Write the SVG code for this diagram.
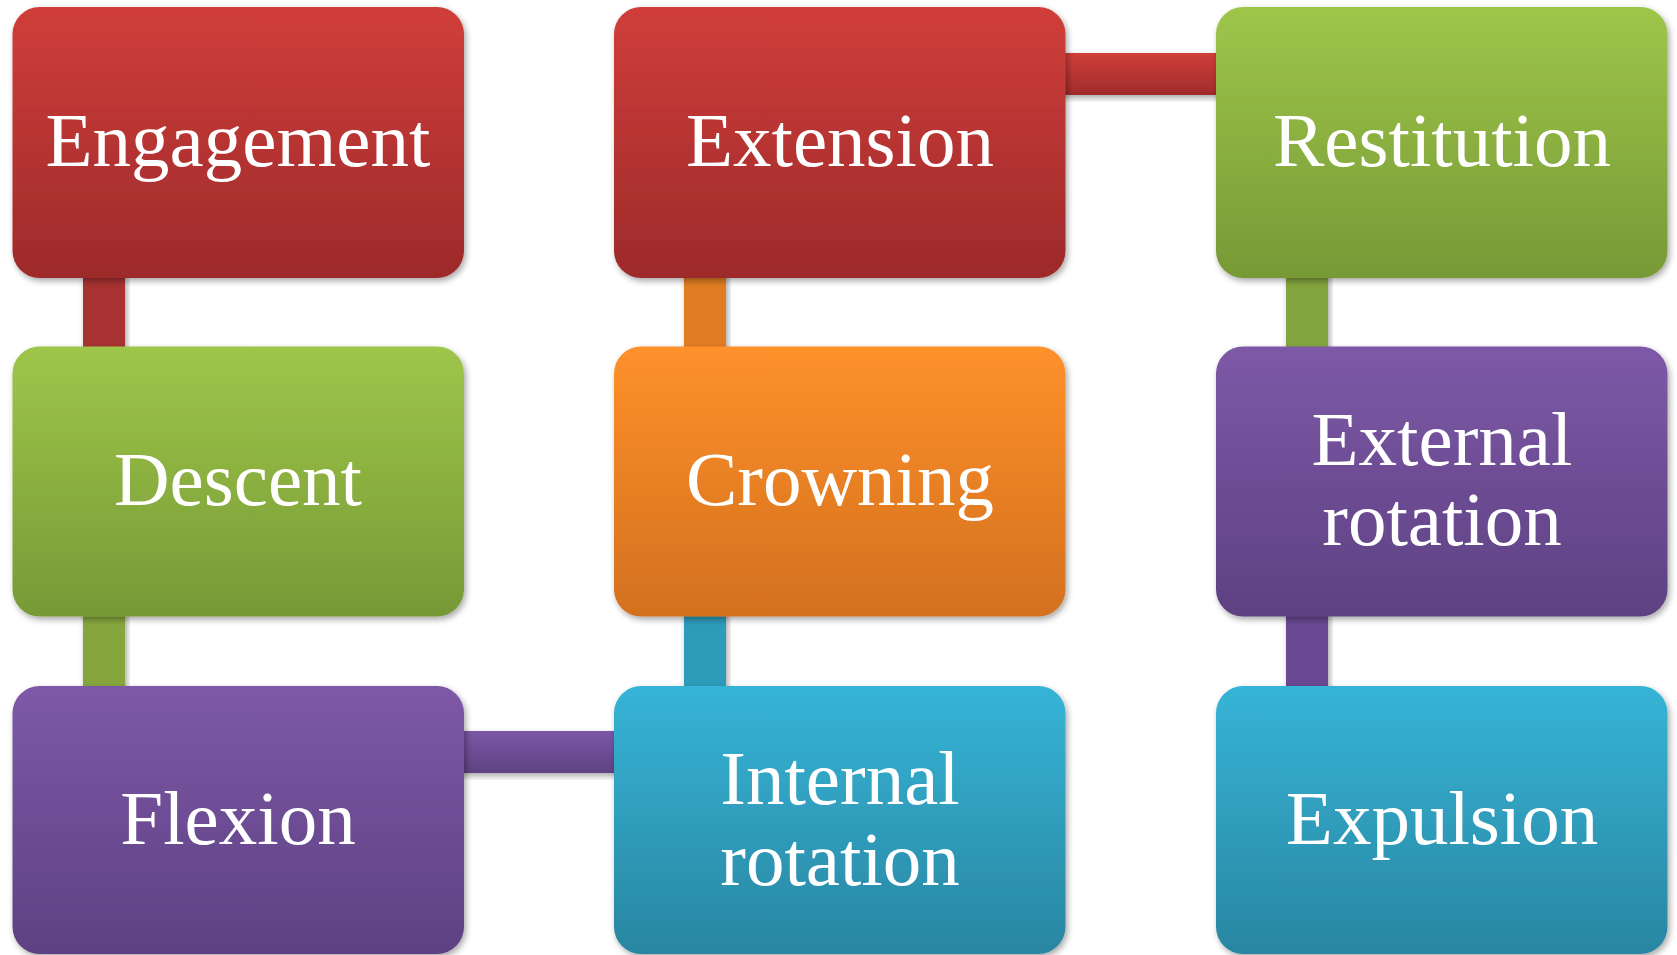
<svg xmlns="http://www.w3.org/2000/svg" width="1677" height="955" viewBox="0 0 1677 955">
  <defs>
    <linearGradient id="gRed" x1="0" y1="0" x2="0" y2="1">
      <stop offset="0" stop-color="#d03e3a"/>
      <stop offset="1" stop-color="#9d2a2b"/>
    </linearGradient>
    <linearGradient id="gGreen" x1="0" y1="0" x2="0" y2="1">
      <stop offset="0" stop-color="#9ec64a"/>
      <stop offset="1" stop-color="#779936"/>
    </linearGradient>
    <linearGradient id="gPurple" x1="0" y1="0" x2="0" y2="1">
      <stop offset="0" stop-color="#7d59a7"/>
      <stop offset="1" stop-color="#5d4182"/>
    </linearGradient>
    <linearGradient id="gOrange" x1="0" y1="0" x2="0" y2="1">
      <stop offset="0" stop-color="#fe912a"/>
      <stop offset="1" stop-color="#d3701f"/>
    </linearGradient>
    <linearGradient id="gTeal" x1="0" y1="0" x2="0" y2="1">
      <stop offset="0" stop-color="#36b4d7"/>
      <stop offset="1" stop-color="#2986a1"/>
    </linearGradient>
    <linearGradient id="cRed" x1="0" y1="0" x2="0" y2="1">
      <stop offset="0" stop-color="#d03e3a"/>
      <stop offset="1" stop-color="#9f2b2b"/>
    </linearGradient>
    <linearGradient id="cPurple" x1="0" y1="0" x2="0" y2="1">
      <stop offset="0" stop-color="#7b57a5"/>
      <stop offset="1" stop-color="#5f4284"/>
    </linearGradient>
    <filter id="shadow" x="-10%" y="-10%" width="120%" height="125%">
      <feDropShadow dx="2" dy="3" stdDeviation="3" flood-color="#000" flood-opacity="0.35"/>
    </filter>
  </defs>
  <style>
    .box { filter: url(#shadow); }
    .lbl { font-family: "Liberation Serif", "Times New Roman", serif; font-size: 77px; fill: #ffffff; text-anchor: middle; }
    .bar { filter: url(#shadow); }
  </style>

  <rect width="1677" height="955" fill="#ffffff"/>

  <!-- connectors between consecutive stages -->
  <g id="connectors">
    <rect class="bar" x="83" y="270" width="42" height="85" fill="#a83131"/>
    <rect class="bar" x="83" y="610" width="42" height="85" fill="#86a63d"/>
    <rect class="bar" x="455" y="731" width="168" height="42" fill="url(#cPurple)"/>
    <rect class="bar" x="684" y="610" width="42" height="85" fill="#2f9bbb"/>
    <rect class="bar" x="684" y="270" width="42" height="85" fill="#e07b22"/>
    <rect class="bar" x="1056" y="53" width="168" height="42" fill="url(#cRed)"/>
    <rect class="bar" x="1286" y="270" width="42" height="85" fill="#84a43c"/>
    <rect class="bar" x="1286" y="610" width="42" height="85" fill="#6b4a92"/>
  </g>

  <!-- column 1 -->
  <g id="engagement">
    <rect class="box" x="12.5" y="7" width="451.5" height="271" rx="27" fill="url(#gRed)"/>
    <text class="lbl" x="238" y="166">Engagement</text>
  </g>
  <g id="descent">
    <rect class="box" x="12.5" y="346.5" width="451.5" height="270" rx="27" fill="url(#gGreen)"/>
    <text class="lbl" x="238" y="505">Descent</text>
  </g>
  <g id="flexion">
    <rect class="box" x="12.5" y="686" width="451.5" height="268" rx="27" fill="url(#gPurple)"/>
    <text class="lbl" x="238" y="844">Flexion</text>
  </g>

  <!-- column 2 -->
  <g id="extension">
    <rect class="box" x="614" y="7" width="451.5" height="271" rx="27" fill="url(#gRed)"/>
    <text class="lbl" x="840" y="166">Extension</text>
  </g>
  <g id="crowning">
    <rect class="box" x="614" y="346.5" width="451.5" height="270" rx="27" fill="url(#gOrange)"/>
    <text class="lbl" x="840" y="505">Crowning</text>
  </g>
  <g id="internal-rotation">
    <rect class="box" x="614" y="686" width="451.5" height="268" rx="27" fill="url(#gTeal)"/>
    <text class="lbl" x="840" y="804">Internal</text>
    <text class="lbl" x="840" y="885">rotation</text>
  </g>

  <!-- column 3 -->
  <g id="restitution">
    <rect class="box" x="1216" y="7" width="451.5" height="271" rx="27" fill="url(#gGreen)"/>
    <text class="lbl" x="1442" y="166">Restitution</text>
  </g>
  <g id="external-rotation">
    <rect class="box" x="1216" y="346.5" width="451.5" height="270" rx="27" fill="url(#gPurple)"/>
    <text class="lbl" x="1442" y="465">External</text>
    <text class="lbl" x="1442" y="545">rotation</text>
  </g>
  <g id="expulsion">
    <rect class="box" x="1216" y="686" width="451.5" height="268" rx="27" fill="url(#gTeal)"/>
    <text class="lbl" x="1442" y="844">Expulsion</text>
  </g>
</svg>
